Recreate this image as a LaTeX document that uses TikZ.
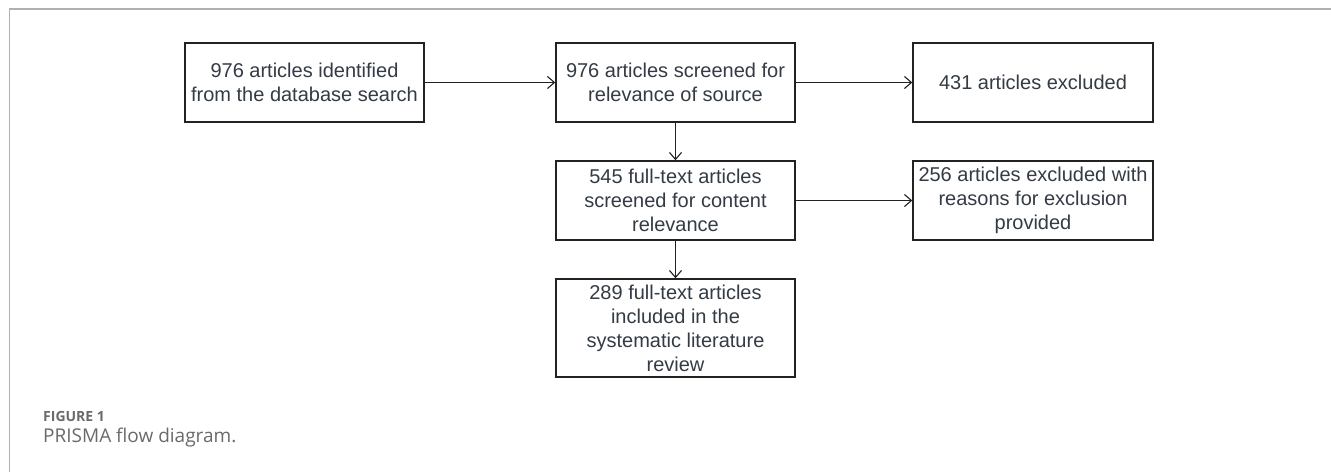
\documentclass[tikz,border=0pt]{standalone}
\usepackage{fontspec}
\setmainfont{Liberation Sans}
\newfontfamily\capfont{Open Sans}
\usetikzlibrary{arrows.meta,positioning}
\definecolor{txt}{HTML}{333B45}
\definecolor{edge}{HTML}{222222}
\definecolor{frame}{HTML}{B0B0B0}
\definecolor{capgray}{HTML}{6A6A6A}
\begin{document}
\begin{tikzpicture}[x=1pt,y=-1pt,
  flowbox/.style={draw=edge,line width=1.4pt,rectangle,minimum width=239pt,minimum height=79pt,
    align=center,text=txt,font=\fontsize{20pt}{24pt}\selectfont,inner sep=2pt},
  flowarrow/.style={draw=edge,line width=1.1pt,-{Straight Barb[length=7pt,width=12pt,line width=1.1pt]}}
  ]
\useasboundingbox (0,0) rectangle (1331,472);
\fill[white] (0,0) rectangle (1331,472);
% frame
\draw[frame,line width=2pt] (9,9) -- (1331,9);
\draw[frame,line width=1pt] (9,9) -- (9,472);
% boxes
\node[flowbox] (ident) at (304.5,82.5) {976 articles identified\\from the database search};
\node[flowbox] (screen) at (675.5,82.5) {976 articles screened for\\relevance of source};
\node[flowbox,minimum width=240pt] (excl1) at (1033,82.5) {431 articles excluded};
\node[flowbox] (full) at (675.5,200.5) {545 full-text articles\\screened for content\\relevance};
\node[flowbox,minimum width=240pt] (excl2) at (1033,200.5) {256 articles excluded with\\reasons for exclusion\\provided};
\node[flowbox,minimum height=98pt] (incl) at (675.5,328) {289 full-text articles\\included in the\\systematic literature\\review};
% arrows
\draw[flowarrow] (ident) -- (screen);
\draw[flowarrow] (screen) -- (excl1);
\draw[flowarrow] (screen) -- (full);
\draw[flowarrow] (full) -- (excl2);
\draw[flowarrow] (full) -- (incl);
% caption
\node[anchor=base west,inner sep=0pt,text=capgray,font=\capfont\bfseries\fontsize{14pt}{16pt}\selectfont] (figlabel) at (43,421) {FIGURE 1};
\node[anchor=base west,inner sep=0pt,text=capgray,font=\capfont\fontsize{19pt}{22pt}\selectfont] (figcap) at (43,442) {PRISMA flow diagram.};
\end{tikzpicture}
\end{document}
